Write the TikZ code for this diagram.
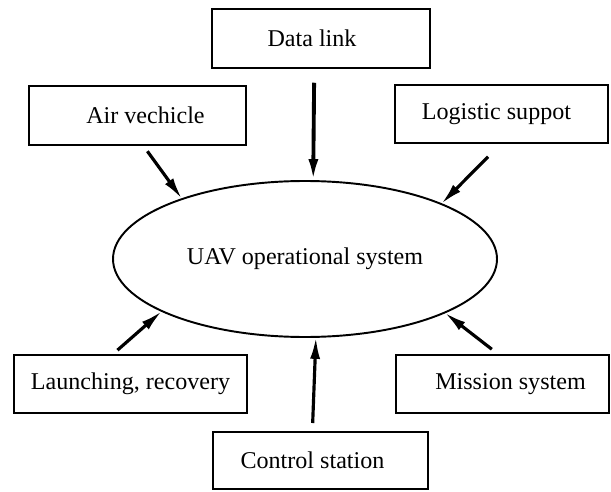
\documentclass[tikz,border=0pt]{standalone}
\usepackage{fontspec}
\setmainfont{Liberation Serif}
\usetikzlibrary{arrows.meta,positioning,shapes.geometric}

\begin{document}
\begin{tikzpicture}[line width=1.3pt,>={Latex[length=4.4mm,width=2mm]},
   box/.style={draw,outer sep=0pt,inner sep=0pt,minimum height=1.17cm,font=\fontsize{13.7}{16}\selectfont},
   feed/.style={->,line width=1.8pt}]
  \useasboundingbox (0,0) rectangle (12.22,-9.82);
  \node[box,minimum width=4.36cm] (data) at (6.42,-0.77) {Data link\hspace*{0.36cm}};
  \node[box,minimum width=4.34cm] (air) at (2.75,-2.31) {\hspace*{0.32cm}Air vechicle};
  \node[box,minimum width=4.26cm] (logi) at (10.03,-2.28) {Logistic suppot\hspace*{0.2cm}};
  \node[box,ellipse,line width=1.1pt,minimum width=7.68cm,minimum height=3.12cm] (uav) at (6.10,-5.18) {UAV operational system};
  \node[box,minimum width=4.66cm] (launch) at (2.61,-7.68) {Launching, recovery};
  \node[box,minimum width=4.26cm] (mission) at (10.05,-7.68) {\hspace*{0.32cm}Mission system};
  \node[box,minimum width=4.30cm,minimum height=1.14cm] (control) at (6.41,-9.21) {Control station\hspace*{0.32cm}};
  \draw[feed,line width=2.2pt,shorten <=0.3cm] (data.-103) -- (uav.84);
  \draw[feed,shorten <=0.16cm] (air.-80) -- (uav.154);
  \draw[feed,shorten <=0.38cm] (logi.south) -- (uav.22);
  \draw[feed,shorten <=0.14cm] (launch.122) -- (uav.200);
  \draw[feed,shorten <=0.18cm] (mission.97) -- (uav.-21);
  \draw[feed,shorten <=0.18cm] (control.106) -- (uav.-82);
\end{tikzpicture}
\end{document}
